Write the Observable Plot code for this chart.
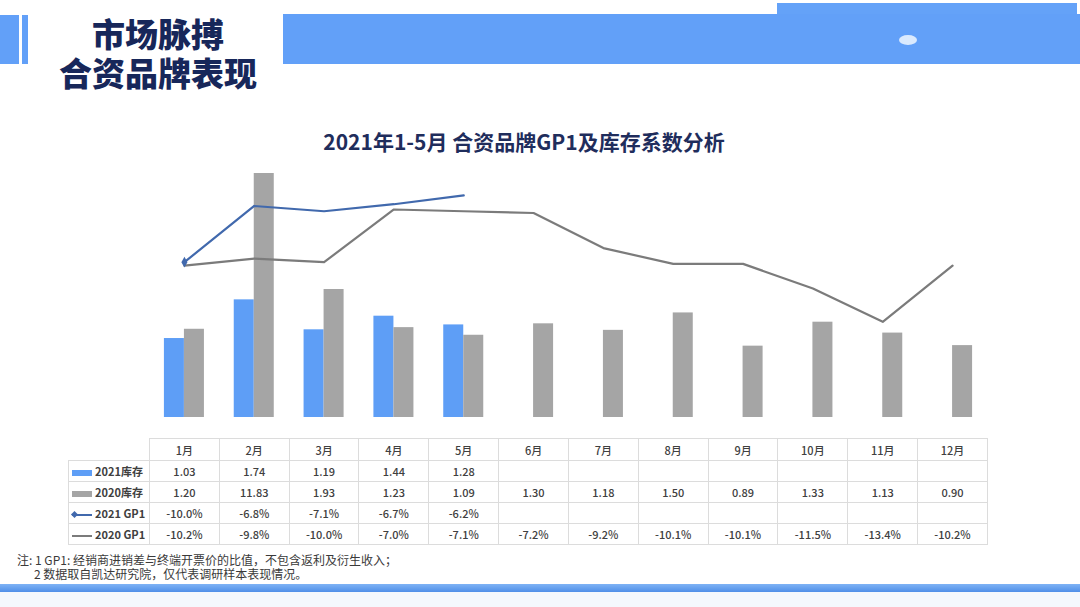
<!DOCTYPE html>
<html><head><meta charset="utf-8">
<script src="https://cdn.jsdelivr.net/npm/d3@7"></script>
<script src="https://cdn.jsdelivr.net/npm/@observablehq/plot@0.6"></script>
<style>
body{margin:0;background:#fff;}
#page{position:relative;width:1080px;height:607px;overflow:hidden;font-family:"Noto Sans CJK SC","Noto Sans",sans-serif;background:#fff;}
.abs{position:absolute;}
.hdr{left:40px;width:236px;text-align:center;font-size:33px;line-height:34px;font-weight:900;color:#17275a;white-space:nowrap;}
#chartTitle{left:0;width:1048px;top:126px;text-align:center;font-size:21px;font-weight:700;color:#1f2d5c;}
.plotlayer{left:0;top:160px;}
#tbl{left:68px;top:438px;border-collapse:collapse;font-size:11px;color:#404040;table-layout:fixed;}
#tbl td{border:1px solid #dcdcdc;text-align:center;padding:0;height:20px;font-weight:500;}
#tbl tr.head td{height:21px;}
#tbl td.lg{text-align:left;padding-left:3px;font-weight:700;white-space:nowrap;}
#tbl td.blank{border:none;}
.sw{display:inline-block;vertical-align:middle;width:20px;margin-right:3px;position:relative;}
.note{font-size:12px;line-height:13px;color:#3a3a3a;white-space:nowrap;}
</style></head><body><div id="page">
<div class="abs" style="left:0;top:15px;width:19px;height:49px;background:#62a0f8"></div>
<div class="abs" style="left:22px;top:15px;width:6px;height:49px;background:#62a0f8"></div>
<div class="abs" style="left:283px;top:14px;width:797px;height:50px;background:#62a0f8"></div>
<div class="abs" style="left:777px;top:3px;width:300px;height:11px;background:#64a2f8"></div>
<div class="abs" style="left:899px;top:35px;width:18px;height:10px;border-radius:50%;background:#e8f2fe;opacity:0.9"></div>
<div class="abs hdr" style="top:16px">市场脉搏</div>
<div class="abs hdr" style="top:55px">合资品牌表现</div>
<div id="chartTitle" class="abs">2021年1-5月 合资品牌GP1及库存系数分析</div>
<div id="barLayer" class="abs plotlayer"></div>
<div id="lineLayer" class="abs plotlayer"></div>
<table id="tbl" class="abs"></table>
<div class="abs note" style="left:17px;top:553px">注: 1 GP1: 经销商进销差与终端开票价的比值，不包含返利及衍生收入；</div>
<div class="abs note" style="left:34px;top:567px">2 数据取自凯达研究院，仅代表调研样本表现情况。</div>
<div class="abs" style="left:0;top:584px;width:1080px;height:8px;background:linear-gradient(#7fb3f5,#4f8fe8)"></div>
<div class="abs" style="left:0;top:592px;width:1080px;height:15px;background:#f4f8fd"></div>
</div>
<script>
const months = ["1月","2月","3月","4月","5月","6月","7月","8月","9月","10月","11月","12月"];
const inv2021 = [1.03,1.74,1.19,1.44,1.28,null,null,null,null,null,null,null];
const inv2020 = [1.20,11.83,1.93,1.23,1.09,1.30,1.18,1.50,0.89,1.33,1.13,0.90];
const gp2021 = [-10.0,-6.8,-7.1,-6.7,-6.2,null,null,null,null,null,null,null];
const gp2020 = [-10.2,-9.8,-10.0,-7.0,-7.1,-7.2,-9.2,-10.1,-10.1,-11.5,-13.4,-10.2];
const seriesNames = ["2021库存","2020库存","2021 GP1","2020 GP1"];
const barColors = ["#5e9ef6","#a5a5a5"];
const lineColors = ["#4169ad","#7b7b7b"];
const invDomain = [-0.42, 4.06];
const gpDomain = [-18.85, -4.95];

const W = 1080, H = 270, mT = 13, mB = 13, mL = 149, mR = 93;

const barRows = [];
months.forEach((m,i)=>{
  if (inv2021[i] != null) barRows.push({month:m, s:seriesNames[0], v:inv2021[i]});
  if (inv2020[i] != null) barRows.push({month:m, s:seriesNames[1], v:inv2020[i]});
});
const barPlot = Plot.plot({
  width:W, height:H, marginTop:mT, marginBottom:mB, marginLeft:mL, marginRight:mR,
  style:{background:"transparent", overflow:"visible"},
  fx:{domain:months, padding:0, round:false, axis:null, label:null},
  x:{domain:[seriesNames[0],seriesNames[1]], paddingInner:0, paddingOuter:0.745, round:false, axis:null},
  y:{domain:invDomain, clamp:true, axis:null},
  color:{domain:[seriesNames[0],seriesNames[1]], range:barColors},
  marks:[
    Plot.barY(barRows, {fx:"month", x:"s", y1:invDomain[0], y2:"v", fill:"s"})
  ]
});
document.getElementById("barLayer").appendChild(barPlot);

const lineRows = [];
months.forEach((m,i)=>{ if (gp2020[i] != null) lineRows.push({month:m, s:seriesNames[3], v:gp2020[i]}); });
months.forEach((m,i)=>{ if (gp2021[i] != null) lineRows.push({month:m, s:seriesNames[2], v:gp2021[i]}); });
const firstPt = lineRows.filter(d => d.s === seriesNames[2]).slice(0,1);
const linePlot = Plot.plot({
  width:W, height:H, marginTop:mT, marginBottom:mB, marginLeft:mL, marginRight:mR,
  style:{background:"transparent", overflow:"visible"},
  x:{type:"point", domain:months, padding:0.5, round:false, axis:null},
  y:{domain:gpDomain, axis:null},
  color:{domain:[seriesNames[2],seriesNames[3]], range:lineColors},
  marks:[
    Plot.line(lineRows, {x:"month", y:"v", z:"s", stroke:"s", strokeWidth:2.2}),
    Plot.dot(firstPt, {x:"month", y:"v", fill:"s", symbol:"diamond", r:3.2, stroke:"none"})
  ]
});
document.getElementById("lineLayer").appendChild(linePlot);

// data table
const tbl = document.getElementById("tbl");
const colW = (W - mL - mR) / months.length;
let html = '<colgroup><col style="width:81px">' + months.map(()=>`<col style="width:${colW}px">`).join("") + '</colgroup>';
html += '<tr class="head"><td class="blank"></td>' + months.map(m=>`<td>${m}</td>`).join("") + '</tr>';
const swatchBar = c => `<span class="sw" style="height:6px;background:${c}"></span>`;
const swatchLine = (c, marker) => `<span class="sw" style="height:8px"><span style="position:absolute;left:0;right:0;top:3px;height:2px;background:${c}"></span>${marker?`<span style="position:absolute;left:0;top:1px;width:5px;height:5px;background:${c};transform:rotate(45deg)"></span>`:''}</span>`;
const rows = [
  {sw:swatchBar(barColors[0]), name:seriesNames[0], vals:inv2021, fmt:v=>v.toFixed(2)},
  {sw:swatchBar(barColors[1]), name:seriesNames[1], vals:inv2020, fmt:v=>v.toFixed(2)},
  {sw:swatchLine(lineColors[0], true), name:seriesNames[2], vals:gp2021, fmt:v=>v.toFixed(1)+"%"},
  {sw:swatchLine(lineColors[1], false), name:seriesNames[3], vals:gp2020, fmt:v=>v.toFixed(1)+"%"}
];
rows.forEach(r=>{
  html += `<tr><td class="lg">${r.sw}${r.name}</td>` + r.vals.map(v=>`<td>${v==null?"":r.fmt(v)}</td>`).join("") + '</tr>';
});
tbl.innerHTML = html;
</script>
</body></html>
